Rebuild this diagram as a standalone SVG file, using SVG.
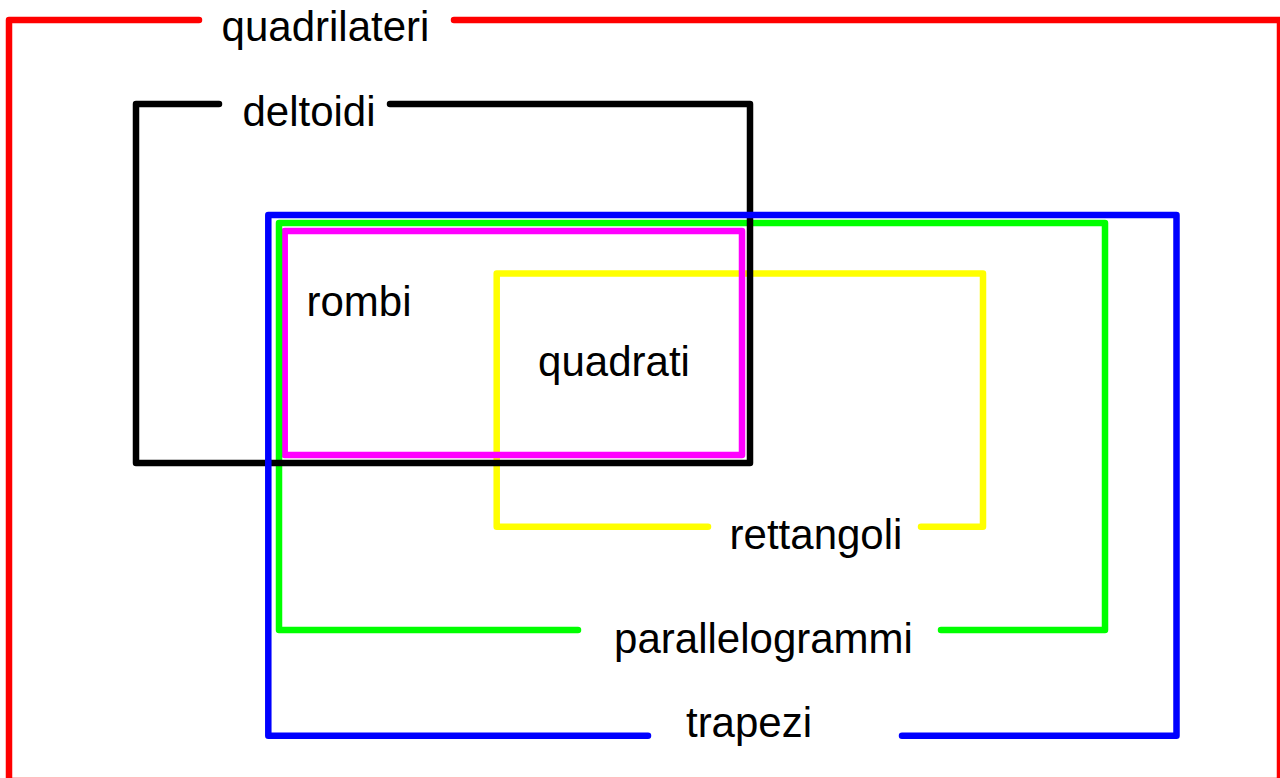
<svg xmlns="http://www.w3.org/2000/svg" width="1280" height="778" viewBox="0 0 1280 778">
<style>
.b{fill:none;stroke-width:6.5;stroke-linecap:round;stroke-linejoin:round}
text{font-family:"Liberation Sans",Arial,sans-serif;font-size:42px;fill:#000;text-anchor:middle}
</style>
<rect width="1280" height="778" fill="#fff"/>
<g id="quadrilateri">
<path class="b" stroke="#ff0000" d="M199,20 H9 V781 H1280 V20 H454"/>
<text x="325.5" y="41">quadrilateri</text>
</g>
<g id="rettangoli">
<path class="b" stroke="#ffff00" d="M708,526.7 H496.7 V273.5 H983 V526.7 H921"/>
<text x="816" y="549">rettangoli</text>
</g>
<g id="rombi">
<rect class="b" stroke="#ff00ff" x="284.7" y="231" width="457.3" height="224"/>
<text x="359" y="316">rombi</text>
</g>
<g id="parallelogrammi">
<path class="b" stroke="#00ff00" d="M578,630 H279 V223 H1105 V630 H941"/>
<text x="763.5" y="653">parallelogrammi</text>
</g>
<g id="deltoidi">
<path class="b" stroke="#000000" d="M219,104 H136 V463 H750 V104 H390"/>
<text x="309" y="126">deltoidi</text>
</g>
<g id="trapezi">
<path class="b" stroke="#0000ff" d="M648,735.7 H268.3 V215 H1176.5 V735.7 H902"/>
<text x="749" y="737">trapezi</text>
</g>
<g id="quadrati">
<text x="614" y="376">quadrati</text>
</g>
</svg>
